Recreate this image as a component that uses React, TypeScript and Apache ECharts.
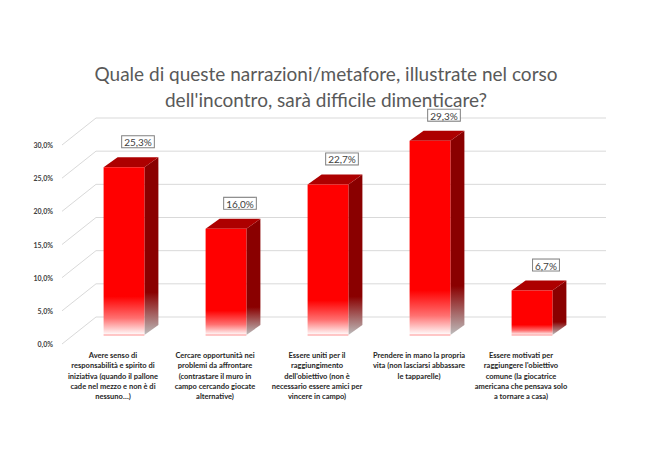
import React, { useEffect, useRef } from "react";
import * as echarts from "echarts";

const title = "Quale di queste narrazioni/metafore, illustrate nel corso\ndell'incontro, sarà difficile dimenticare?";

const categories = [
  "Avere senso di\nresponsabilità e spirito di\niniziativa (quando il pallone\ncade nel mezzo e non è di\nnessuno…)",
  "Cercare opportunità nei\nproblemi da affrontare\n(contrastare il muro in\ncampo cercando giocate\nalternative)",
  "Essere uniti per il\nraggiungimento\ndell'obiettivo (non è\nnecessario essere amici per\nvincere in campo)",
  "Prendere in mano la propria\nvita (non lasciarsi abbassare\nle tapparelle)",
  "Essere motivati per\nraggiungere l'obiettivo\ncomune (la giocatrice\namericana che pensava solo\na tornare a casa)",
];

const values = [25.3, 16.0, 22.7, 29.3, 6.7];

const yTicks = [0, 5, 10, 15, 20, 25, 30];

const fmt = (v: number) => v.toFixed(1).replace(".", ",") + "%";

// 3D geometry (pixels)
const WALL_DX = 34;
const WALL_DY = -27;
const FACE_DX = 11;
const FACE_DY = -9;
const DEPTH_DX = 14;
const DEPTH_DY = -10;

export default function App() {
  const ref = useRef<HTMLDivElement>(null);
  useEffect(() => {
    if (!ref.current) return;
    const chart = echarts.init(ref.current, undefined, { renderer: "svg" });
    const font = "Lato, 'Open Sans', sans-serif";
    chart.setOption({
      animation: false,
      backgroundColor: "#ffffff",
      title: {
        text: title,
        left: 321,
        top: 55,
        textAlign: "center",
        textStyle: {
          fontFamily: font,
          fontSize: 19,
          fontWeight: "normal",
          color: "#595959",
          lineHeight: 26,
        },
      },
      grid: { left: 62, right: 78, top: 145, bottom: 116 },
      xAxis: {
        type: "category",
        data: categories,
        axisLine: { show: false },
        axisTick: { show: false },
        axisLabel: {
          interval: 0,
          margin: 6,
          fontFamily: font,
          fontSize: 7.5,
          fontWeight: "bold",
          color: "#262626",
          lineHeight: 10.4,
          align: "center",
        },
      },
      yAxis: {
        type: "value",
        min: 0,
        max: 30,
        interval: 5,
        axisLine: { show: false },
        axisTick: { show: false },
        splitLine: { show: false },
        axisLabel: {
          margin: 9,
          fontFamily: font,
          fontSize: 7,
          fontWeight: "bold",
          color: "#404040",
          formatter: (v: number) => fmt(v),
        },
      },
      series: [
        {
          type: "custom",
          z: 1,
          data: yTicks.map((v) => [0, v]),
          renderItem: (params: any, api: any) => {
            const cs = params.coordSys;
            const y = api.coord([0, api.value(1)])[1];
            return {
              type: "polyline",
              shape: {
                points: [
                  [cs.x, y],
                  [cs.x + WALL_DX, y + WALL_DY],
                  [cs.x + cs.width + WALL_DX, y + WALL_DY],
                ],
              },
              style: { stroke: "#d9d9d9", lineWidth: 1, fill: null },
              silent: true,
            };
          },
        },
        {
          type: "custom",
          z: 2,
          data: values.map((v, i) => [i, v]),
          renderItem: (params: any, api: any) => {
            const i = api.value(0);
            const v = api.value(1);
            const top = api.coord([i, v]);
            const base = api.coord([i, 0]);
            const w = api.size([1, 0])[0] * 0.4;
            const cx = top[0] + FACE_DX;
            const l = cx - w / 2;
            const r = cx + w / 2;
            const t = top[1] + FACE_DY;
            const b = base[1] + FACE_DY;
            return {
              type: "group",
              children: [
                {
                  type: "polygon",
                  shape: {
                    points: [
                      [r, t],
                      [r + DEPTH_DX, t + DEPTH_DY],
                      [r + DEPTH_DX, b + DEPTH_DY],
                      [r, b],
                    ],
                  },
                  style: {
                    fill: {
                      type: "linear",
                      x: 0, y: 0, x2: 0, y2: 1,
                      colorStops: [
                        { offset: 0, color: "#8a0000" },
                        { offset: 0.76, color: "#8a0000" },
                        { offset: 1, color: "#bdbdbd" },
                      ],
                    },
                  },
                },
                {
                  type: "polygon",
                  shape: {
                    points: [
                      [l, t],
                      [l + DEPTH_DX, t + DEPTH_DY],
                      [r + DEPTH_DX, t + DEPTH_DY],
                      [r, t],
                    ],
                  },
                  style: { fill: "#ad0000" },
                },
                {
                  type: "rect",
                  shape: { x: l, y: t, width: w, height: b - t },
                  style: {
                    fill: {
                      type: "linear",
                      x: 0, y: 0, x2: 0, y2: 1,
                      colorStops: [
                        { offset: 0, color: "#ff0000" },
                        { offset: 0.77, color: "#ff0000" },
                        { offset: 0.9, color: "#ff7070" },
                        { offset: 1, color: "#ffffff" },
                      ],
                    },
                  },
                },
                {
                  type: "line",
                  shape: { x1: l, y1: b, x2: r, y2: b },
                  style: { stroke: "#ff9090", lineWidth: 1 },
                },
                {
                  type: "text",
                  style: {
                    text: fmt(v),
                    x: cx + DEPTH_DX,
                    y: t + DEPTH_DY - 10,
                    align: "center",
                    verticalAlign: "bottom",
                    fontFamily: font,
                    fontSize: 10,
                    fill: "#404040",
                    backgroundColor: "#ffffff",
                    borderColor: "#808080",
                    borderWidth: 1,
                    padding: [1, 2, 0, 2],
                  },
                },
              ],
            };
          },
        },
      ],
    });
    return () => chart.dispose();
  }, []);
  return (
    <div
      ref={ref}
      style={{ position: "fixed", left: 0, top: 0, width: 650, height: 460 }}
    />
  );
}
